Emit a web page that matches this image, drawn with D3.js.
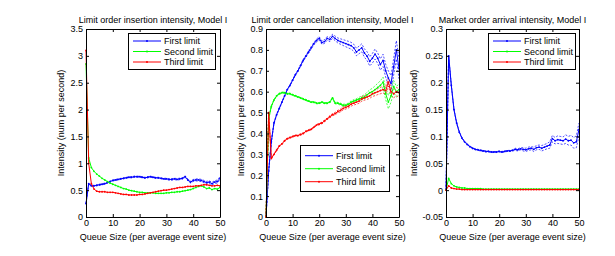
<!DOCTYPE html>
<html>
<head>
<meta charset="utf-8">
<script src="https://cdn.jsdelivr.net/npm/d3@7"></script>
<style>
  body { margin: 0; background: #fff; }
  svg text { font-family: "Liberation Sans", Arial, sans-serif; fill: #000; }
  .axis path, .axis line { stroke: #000; }
</style>
</head>
<body>
<div id="chart"></div>
<script>
// queue sizes (x values of every series)
var queueSize = [0,1,2,3,4,5,6,7,8,9,10,11,12,13,14,15,16,17,18,19,20,21,22,23,24,25,
  26,27,28,29,30,31,32,33,34,35,36,37,38,39,40,41,42,43,44,45,46,47,48,49,50];

var seriesNames = ["First limit", "Second limit", "Third limit"];
var xTicks = [0, 10, 20, 30, 40, 50];
var xTickLabels = ["0", "10", "20", "30", "40", "50"];

// limit order insertion
var insFirst = [0.25,0.62,0.58,0.58,0.59,0.60,0.61,0.62,0.64,0.66,0.68,
  0.69,0.70,0.71,0.72,0.73,0.74,0.74,0.75,0.75,0.75,
  0.74,0.73,0.74,0.75,0.74,0.73,0.73,0.72,0.71,0.71,
  0.70,0.70,0.71,0.70,0.71,0.72,0.75,0.69,0.65,0.68,
  0.69,0.69,0.68,0.66,0.64,0.65,0.62,0.65,0.66,0.72];
var insSecond = [2.85,1.10,0.92,0.85,0.80,0.76,0.72,0.69,0.66,0.63,0.61,
  0.59,0.57,0.55,0.53,0.52,0.50,0.49,0.48,0.47,0.46,
  0.46,0.45,0.45,0.45,0.45,0.44,0.44,0.44,0.44,0.45,
  0.45,0.46,0.46,0.47,0.47,0.48,0.49,0.50,0.51,0.53,
  0.55,0.57,0.58,0.56,0.53,0.54,0.51,0.53,0.52,0.55];
var insThird = [3.10,1.00,0.62,0.52,0.48,0.47,0.47,0.47,0.46,0.46,0.46,
  0.45,0.44,0.43,0.42,0.42,0.41,0.41,0.41,0.41,0.42,
  0.42,0.43,0.44,0.45,0.46,0.47,0.48,0.49,0.50,0.50,
  0.51,0.52,0.53,0.54,0.55,0.55,0.56,0.57,0.57,0.57,
  0.58,0.58,0.59,0.60,0.60,0.59,0.58,0.58,0.59,0.58];
var insFirstBand = [0.01,0.01,0.01,0.01,0.01,0.01,0.01,0.01,0.01,0.01,0.01,
  0.01,0.01,0.01,0.01,0.01,0.01,0.01,0.01,0.01,0.01,
  0.01,0.01,0.01,0.01,0.01,0.01,0.01,0.01,0.01,0.012,
  0.012,0.013,0.013,0.014,0.014,0.015,0.015,0.016,0.017,0.018,
  0.019,0.02,0.021,0.022,0.023,0.024,0.025,0.026,0.028,0.03];

// limit order cancellation
var canFirst = [0,0.22,0.36,0.45,0.49,0.52,0.55,0.58,0.61,0.63,0.655,
  0.68,0.70,0.725,0.75,0.77,0.79,0.81,0.83,0.845,0.855,
  0.835,0.84,0.855,0.85,0.865,0.855,0.845,0.84,0.835,0.83,
  0.825,0.82,0.81,0.79,0.80,0.81,0.785,0.77,0.745,0.76,
  0.78,0.76,0.73,0.75,0.70,0.665,0.64,0.72,0.80,0.71];
var canSecond = [0,0.47,0.53,0.56,0.58,0.59,0.595,0.595,0.59,0.59,0.585,
  0.58,0.575,0.57,0.565,0.56,0.555,0.55,0.55,0.545,0.545,
  0.55,0.545,0.545,0.55,0.57,0.545,0.545,0.54,0.535,0.535,
  0.54,0.55,0.555,0.56,0.565,0.57,0.575,0.585,0.595,0.60,
  0.61,0.62,0.63,0.645,0.59,0.55,0.58,0.625,0.60,0.61];
var canThird = [0,0.50,0.28,0.30,0.32,0.34,0.35,0.365,0.375,0.38,0.385,
  0.39,0.39,0.395,0.40,0.41,0.415,0.42,0.43,0.44,0.445,
  0.45,0.46,0.47,0.48,0.49,0.495,0.505,0.51,0.52,0.525,
  0.53,0.54,0.545,0.55,0.555,0.565,0.57,0.575,0.58,0.59,
  0.595,0.60,0.605,0.61,0.605,0.645,0.60,0.59,0.60,0.595];
var canFirstBand = [0,0.003,0.003,0.003,0.003,0.003,0.003,0.003,0.003,0.003,0.004,
  0.004,0.004,0.005,0.005,0.005,0.006,0.006,0.006,0.007,0.008,
  0.008,0.009,0.009,0.010,0.010,0.011,0.012,0.013,0.014,0.015,
  0.016,0.016,0.017,0.018,0.018,0.019,0.020,0.021,0.022,0.023,
  0.024,0.025,0.027,0.029,0.031,0.034,0.037,0.040,0.044,0.048];
var canSecondBand = [0,0.003,0.003,0.003,0.003,0.003,0.003,0.003,0.003,0.003,0.003,
  0.003,0.003,0.003,0.003,0.003,0.003,0.003,0.003,0.003,0.003,
  0.003,0.003,0.003,0.003,0.004,0.004,0.004,0.005,0.005,0.005,
  0.006,0.006,0.007,0.007,0.008,0.009,0.010,0.012,0.014,0.016,
  0.018,0.020,0.022,0.025,0.028,0.032,0.030,0.028,0.026,0.025];
var canThirdBand = [0,0.003,0.003,0.003,0.003,0.003,0.003,0.003,0.003,0.003,0.003,
  0.003,0.003,0.003,0.003,0.003,0.003,0.003,0.003,0.003,0.004,
  0.004,0.004,0.004,0.005,0.005,0.006,0.006,0.007,0.007,0.008,
  0.008,0.009,0.009,0.010,0.010,0.011,0.011,0.012,0.012,0.013,
  0.014,0.014,0.015,0.016,0.017,0.018,0.018,0.019,0.020,0.020];

// market order arrival
var mktFirst = [0,0.25,0.195,0.15,0.125,0.108,0.097,0.09,0.085,0.081,0.078,
  0.076,0.075,0.074,0.073,0.072,0.072,0.071,0.071,0.071,0.072,
  0.071,0.072,0.073,0.073,0.074,0.076,0.075,0.077,0.076,0.075,
  0.077,0.078,0.076,0.079,0.080,0.078,0.080,0.082,0.084,0.096,
  0.092,0.094,0.093,0.092,0.095,0.092,0.093,0.088,0.090,0.113];
var mktSecond = [0,0.022,0.012,0.008,0.006,0.005,0.004,0.004,0.003,0.003,0.003,
  0.003,0.003,0.003,0.002,0.002,0.002,0.002,0.002,0.002,0.002,
  0.002,0.002,0.002,0.002,0.002,0.002,0.002,0.002,0.002,0.002,
  0.002,0.002,0.002,0.002,0.002,0.002,0.002,0.002,0.002,0.002,
  0.002,0.002,0.002,0.002,0.002,0.002,0.002,0.002,0.002,0.002];
var mktThird = [0,0.008,0.004,0.003,0.002,0.002,0.001,0.001,0.001,0.001,0.001,
  0.001,0.001,0.001,0.001,0.001,0.001,0.001,0.001,0.001,0.001,
  0.001,0.001,0.001,0.001,0.001,0.001,0.001,0.001,0.001,0.001,
  0.001,0.001,0.001,0.001,0.001,0.001,0.001,0.001,0.001,0.001,
  0.001,0.001,0.001,0.001,0.001,0.001,0.001,0.001,0.001,0.001];
var mktFirstBand = [0,0.001,0.001,0.001,0.001,0.001,0.001,0.001,0.001,0.001,0.001,
  0.001,0.001,0.001,0.001,0.001,0.001,0.001,0.001,0.001,0.001,
  0.001,0.001,0.001,0.001,0.001,0.002,0.002,0.002,0.003,0.003,
  0.003,0.003,0.004,0.004,0.004,0.005,0.005,0.005,0.006,0.006,
  0.006,0.007,0.007,0.007,0.008,0.008,0.009,0.010,0.011,0.012];

var colors = ["#0000ff", "#00ff00", "#ff0000"];

var panels = [
  { title: "Limit order insertion intensity, Model I",
    left: 86, right: 220, yDomain: [0, 3.5],
    yTicks: [0, 0.5, 1, 1.5, 2, 2.5, 3, 3.5],
    yTickLabels: ["0", "0.5", "1", "1.5", "2", "2.5", "3", "3.5"],
    series: [insFirst, insSecond, insThird],
    bands: [insFirstBand, null, null],
    ylabelGap: 22, legend: { x: 128, y: 33, w: 87, h: 36, row0: 8, step: 10.5 } },
  { title: "Limit order cancellation intensity, Model I",
    left: 266, right: 399, yDomain: [0, 0.9],
    yTicks: [0, 0.1, 0.2, 0.3, 0.4, 0.5, 0.6, 0.7, 0.8, 0.9],
    yTickLabels: ["0", "0.1", "0.2", "0.3", "0.4", "0.5", "0.6", "0.7", "0.8", "0.9"],
    series: [canFirst, canSecond, canThird],
    bands: [canFirstBand, canSecondBand, canThirdBand],
    ylabelGap: 22, legend: { x: 300, y: 145, w: 89, h: 46, row0: 10.7, step: 13 } },
  { title: "Market order arrival intensity, Model I",
    left: 446, right: 579, yDomain: [-0.05, 0.3],
    yTicks: [-0.05, 0, 0.05, 0.1, 0.15, 0.2, 0.25, 0.3],
    yTickLabels: ["-0.05", "0", "0.05", "0.1", "0.15", "0.2", "0.25", "0.3"],
    series: [mktFirst, mktSecond, mktThird],
    bands: [mktFirstBand, null, null],
    ylabelGap: 29, legend: { x: 488, y: 33, w: 87, h: 36, row0: 8, step: 10.5 } }
];

var plotTop = 29, plotBottom = 217;

var svg = d3.select("#chart")
  .append("svg")
    .attr("width", 615)
    .attr("height", 256);

panels.forEach(function(p) {
  var x = d3.scaleLinear().domain([0, 50]).range([p.left, p.right]);
  var y = d3.scaleLinear().domain(p.yDomain).range([plotBottom, plotTop]);
  var g = svg.append("g");

  var line = d3.line()
    .x(function(d, i) { return x(queueSize[i]); })
    .y(function(d) { return y(d); });

  // confidence bands (dashed)
  p.bands.forEach(function(b, k) {
    if (!b) return;
    var s = p.series[k];
    [1, -1].forEach(function(sign) {
      g.append("path")
        .datum(s.map(function(v, i) { return v + sign * b[i]; }))
        .attr("fill", "none")
        .attr("stroke", colors[k])
        .attr("stroke-width", 0.7)
        .attr("stroke-dasharray", "2,1.5")
        .attr("d", line);
    });
  });

  p.series.forEach(function(s, k) {
    g.append("path")
      .datum(s)
      .attr("fill", "none")
      .attr("stroke", colors[k])
      .attr("stroke-width", 1)
      .attr("d", line);
    g.selectAll(null)
      .data(s)
      .enter().append("circle")
        .attr("cx", function(d, i) { return x(queueSize[i]); })
        .attr("cy", function(d) { return y(d); })
        .attr("r", 0.9)
        .attr("fill", colors[k]);
  });

  // box axes
  g.append("g").attr("class", "axis")
    .attr("transform", "translate(0," + plotBottom + ")")
    .call(d3.axisBottom(x).tickValues(xTicks).tickSizeInner(-3).tickSizeOuter(0).tickPadding(3)
      .tickFormat(function(d, i) { return xTickLabels[i]; }));
  g.append("g").attr("class", "axis")
    .attr("transform", "translate(0," + plotTop + ")")
    .call(d3.axisTop(x).tickValues(xTicks).tickSizeInner(-3).tickSizeOuter(0).tickFormat(""));
  g.append("g").attr("class", "axis")
    .attr("transform", "translate(" + p.left + ",0)")
    .call(d3.axisLeft(y).tickValues(p.yTicks).tickSizeInner(-3).tickSizeOuter(0).tickPadding(3)
      .tickFormat(function(d, i) { return p.yTickLabels[i]; }));
  g.append("g").attr("class", "axis")
    .attr("transform", "translate(" + p.right + ",0)")
    .call(d3.axisRight(y).tickValues(p.yTicks).tickSizeInner(-3).tickSizeOuter(0).tickFormat(""));

  g.selectAll(".axis text")
    .attr("font-family", null)
    .style("font-size", "9px");

  // title and labels
  g.append("text")
    .attr("x", (p.left + p.right) / 2)
    .attr("y", 23)
    .attr("text-anchor", "middle")
    .style("font-size", "9px")
    .text(p.title);

  g.append("text")
    .attr("x", (p.left + p.right) / 2)
    .attr("y", 240)
    .attr("text-anchor", "middle")
    .style("font-size", "9px")
    .text("Queue Size (per average event size)");

  g.append("text")
    .attr("transform", "translate(" + (p.left - p.ylabelGap) + "," + ((plotTop + plotBottom) / 2) + ") rotate(-90)")
    .attr("text-anchor", "middle")
    .style("font-size", "9px")
    .text("Intensity (num per second)");

  // legend
  var L = p.legend;
  var lg = g.append("g").attr("transform", "translate(" + L.x + "," + L.y + ")");
  lg.append("rect")
    .attr("x", 0.5).attr("y", 0.5)
    .attr("width", L.w).attr("height", L.h)
    .attr("fill", "#fff")
    .attr("stroke", "#000")
    .attr("stroke-width", 1);
  seriesNames.forEach(function(name, k) {
    var ry = L.row0 + k * L.step;
    lg.append("line")
      .attr("x1", 5).attr("x2", 33)
      .attr("y1", ry).attr("y2", ry)
      .attr("stroke", colors[k])
      .attr("stroke-width", 1);
    lg.append("circle")
      .attr("cx", 19).attr("cy", ry).attr("r", 1)
      .attr("fill", colors[k]);
    lg.append("text")
      .attr("x", 36)
      .attr("y", ry)
      .attr("dy", "0.35em")
      .style("font-size", "9px")
      .text(name);
  });
});
</script>
</body>
</html>
